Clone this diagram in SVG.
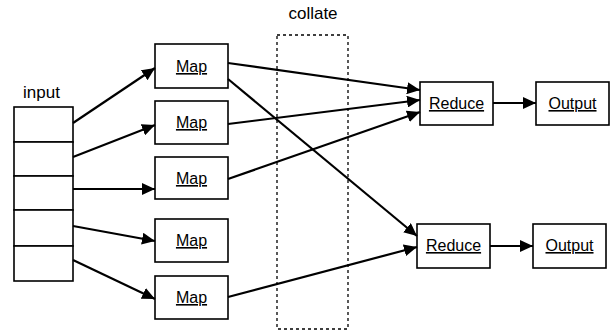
<svg xmlns="http://www.w3.org/2000/svg" width="611" height="331" viewBox="0 0 611 331">
<style>
.box{fill:#fff;stroke:#000;stroke-width:1.6}
.lbl{font-family:"Liberation Sans",Arial,sans-serif;font-size:16px;text-anchor:middle;text-decoration:underline;fill:#000}
.plain{font-family:"Liberation Sans",Arial,sans-serif;font-size:17px;fill:#000}
.edge{stroke:#000;stroke-width:2.2;fill:none;marker-end:url(#ah)}
</style>
<defs>
<marker id="ah" markerUnits="userSpaceOnUse" markerWidth="14" markerHeight="12" viewBox="0 0 14 12" refX="13" refY="6" orient="auto">
<path d="M0,0 L13,6 L0,12 Z" fill="#000"/>
</marker>
</defs>
<rect fill="#fff" width="611" height="331"/>
<g id="collate">
<rect x="277" y="35" width="71" height="294" fill="none" stroke="#000" stroke-width="1.3" stroke-dasharray="3,3"/>
<text class="plain" x="313" y="19" text-anchor="middle">collate</text>
</g>
<g id="input">
<text class="plain" x="23" y="98">input</text>
<rect class="box" x="14" y="107" width="59" height="35"/>
<rect class="box" x="14" y="142" width="59" height="34"/>
<rect class="box" x="14" y="176" width="59" height="34"/>
<rect class="box" x="14" y="210" width="59" height="36"/>
<rect class="box" x="14" y="246" width="59" height="35"/>
</g>
<g id="map1"><rect class="box" x="155" y="44" width="73" height="44"/><text class="lbl" x="191.5" y="72">Map</text></g>
<g id="map2"><rect class="box" x="155" y="101" width="73" height="43"/><text class="lbl" x="191.5" y="128">Map</text></g>
<g id="map3"><rect class="box" x="155" y="157" width="73" height="42"/><text class="lbl" x="191.5" y="184">Map</text></g>
<g id="map4"><rect class="box" x="155" y="219" width="73" height="43"/><text class="lbl" x="191.5" y="246">Map</text></g>
<g id="map5"><rect class="box" x="155" y="276" width="73" height="43"/><text class="lbl" x="191.5" y="303">Map</text></g>
<g id="reduce1"><rect class="box" x="420" y="82" width="73" height="43"/><text class="lbl" x="456.5" y="109">Reduce</text></g>
<g id="output1"><rect class="box" x="536" y="82" width="73" height="43"/><text class="lbl" x="572.5" y="109">Output</text></g>
<g id="reduce2"><rect class="box" x="417" y="224" width="73" height="44"/><text class="lbl" x="453.5" y="251">Reduce</text></g>
<g id="output2"><rect class="box" x="533" y="224" width="73" height="44"/><text class="lbl" x="569.5" y="251">Output</text></g>
<g id="connectors">
<line class="edge" x1="73" y1="123" x2="155" y2="68"/>
<line class="edge" x1="73" y1="157" x2="155" y2="125"/>
<line class="edge" x1="73" y1="189" x2="155" y2="189"/>
<line class="edge" x1="73" y1="226" x2="155" y2="241"/>
<line class="edge" x1="73" y1="260" x2="155" y2="299"/>
<line class="edge" x1="228" y1="63" x2="420" y2="90"/>
<line class="edge" x1="228" y1="79" x2="417" y2="236"/>
<line class="edge" x1="228" y1="124" x2="420" y2="100"/>
<line class="edge" x1="228" y1="179" x2="420" y2="112"/>
<line class="edge" x1="228" y1="297" x2="417" y2="247"/>
<line class="edge" x1="493" y1="103" x2="536" y2="103"/>
<line class="edge" x1="490" y1="246" x2="533" y2="246"/>
</g>
</svg>
